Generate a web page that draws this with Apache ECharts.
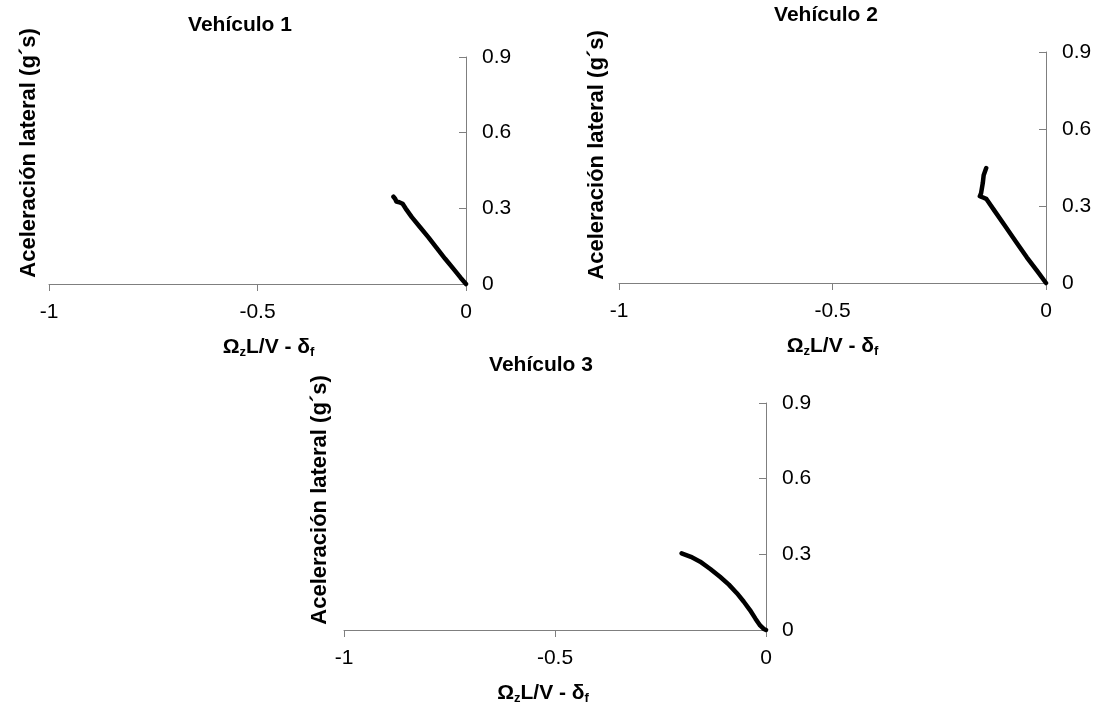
<!DOCTYPE html>
<html>
<head>
<meta charset="utf-8">
<script src="https://cdn.jsdelivr.net/npm/echarts@6/dist/echarts.min.js"></script>
<style>
  html, body { margin: 0; padding: 0; background: #fff; }
  #chart { width: 1104px; height: 712px; }
</style>
</head>
<body>
<div id="chart"></div>
<script>
// Yaw-response curves: lateral acceleration vs. (Ωz·L/V − δf) for three vehicles
const vehicleTitles = ['Vehículo 1', 'Vehículo 2', 'Vehículo 3'];

// [ΩzL/V − δf, lateral acceleration (g)]
const vehicle1 = [
  [0, 0], [-0.013, 0.025], [-0.03, 0.06], [-0.05, 0.1], [-0.07, 0.142],
  [-0.09, 0.185], [-0.11, 0.225], [-0.13, 0.265], [-0.145, 0.3],
  [-0.152, 0.318], [-0.16, 0.324], [-0.167, 0.327], [-0.17, 0.338], [-0.174, 0.346]
];
const vehicle2 = [
  [0, 0], [-0.02, 0.045], [-0.045, 0.1], [-0.07, 0.16], [-0.095, 0.22],
  [-0.12, 0.28], [-0.14, 0.328], [-0.15, 0.335], [-0.155, 0.338],
  [-0.152, 0.35], [-0.148, 0.39], [-0.146, 0.42], [-0.14, 0.448]
];
const vehicle3 = [
  [0, 0], [-0.006, 0.005], [-0.014, 0.018], [-0.025, 0.045], [-0.038, 0.079],
  [-0.053, 0.113], [-0.069, 0.146], [-0.088, 0.18], [-0.109, 0.211],
  [-0.132, 0.242], [-0.156, 0.271], [-0.178, 0.29], [-0.2, 0.304]
];

const xTicks = { min: -1, max: 0, interval: 0.5 };
const yTicks = { min: 0, max: 0.9, interval: 0.3 };
const yName = 'Aceleración lateral (g´s)';
const xNameRich = '{a|Ω}{s|z}{a|L/V - δ}{s|f}';

const FONT = '"Liberation Sans", Arial, sans-serif';
const AXIS_COLOR = '#7f7f7f';

// Plot-area boxes for the three panels
const grids = [
  { left: 49,  top: 57,  width: 417, height: 227 },
  { left: 619, top: 52,  width: 427, height: 231 },
  { left: 344, top: 403, width: 422, height: 227 }
];
const titlePos = [
  { left: 240, top: 15 },
  { left: 826, top: 5 },
  { left: 541, top: 355 }
];
const yNamePos = [
  { x: 29, y: 153 },
  { x: 597, y: 155 },
  { x: 320, y: 500 }
];
// horizontal nudge of each x-axis title: [top, right, bottom, left] padding
const xNamePadding = [
  [0, 0, 0, 22],
  [0, 0, 0, 0],
  [0, 24, 0, 0]
];
const seriesData = [vehicle1, vehicle2, vehicle3];

const chart = echarts.init(document.getElementById('chart'), null, { renderer: 'canvas' });

const option = {
  backgroundColor: '#fff',
  animation: false,
  title: vehicleTitles.map((t, i) => ({
    text: t,
    left: titlePos[i].left,
    top: titlePos[i].top,
    textAlign: 'center',
    padding: 0,
    textStyle: { fontFamily: FONT, fontSize: 21, fontWeight: 'bold', color: '#000' }
  })),
  grid: grids.map(g => Object.assign({ containLabel: false }, g)),
  xAxis: grids.map((g, i) => ({
    type: 'value',
    gridIndex: i,
    min: xTicks.min, max: xTicks.max, interval: xTicks.interval,
    position: 'bottom',
    splitLine: { show: false },
    axisLine: { show: true, onZero: false, lineStyle: { color: AXIS_COLOR, width: 1 } },
    axisTick: { show: true, inside: false, length: 7, lineStyle: { color: AXIS_COLOR } },
    axisLabel: { color: '#000', fontFamily: FONT, fontSize: 21, margin: 18,
      formatter: v => String(Math.round(v * 10) / 10) },
    name: xNameRich,
    nameLocation: 'middle',
    nameGap: 52,
    nameTextStyle: {
      padding: xNamePadding[i],
      rich: {
        a: { fontFamily: FONT, fontSize: 21, fontWeight: 'bold', color: '#000' },
        s: { fontFamily: FONT, fontSize: 13, fontWeight: 'bold', color: '#000', padding: [10, 0, 0, 0] }
      }
    }
  })),
  yAxis: grids.map((g, i) => ({
    type: 'value',
    gridIndex: i,
    min: yTicks.min, max: yTicks.max, interval: yTicks.interval,
    position: 'right',
    splitLine: { show: false },
    axisLine: { show: true, onZero: false, lineStyle: { color: AXIS_COLOR, width: 1 } },
    axisTick: { show: true, inside: true, length: 7, lineStyle: { color: AXIS_COLOR } },
    axisLabel: { color: '#000', fontFamily: FONT, fontSize: 21, margin: 16,
      formatter: v => String(Math.round(v * 10) / 10) }
  })),
  graphic: yNamePos.map(p => ({
    type: 'text',
    x: p.x, y: p.y,
    rotation: Math.PI / 2,
    style: {
      text: yName,
      fontFamily: FONT, fontSize: 22, fontWeight: 'bold', fill: '#000',
      align: 'center', verticalAlign: 'middle'
    }
  })),
  series: seriesData.map((d, i) => ({
    type: 'line',
    xAxisIndex: i, yAxisIndex: i,
    data: d,
    showSymbol: false,
    smooth: false,
    clip: false,
    lineStyle: { color: '#000', width: 4.5, cap: 'round', join: 'round' }
  }))
};

chart.setOption(option);
</script>
</body>
</html>
